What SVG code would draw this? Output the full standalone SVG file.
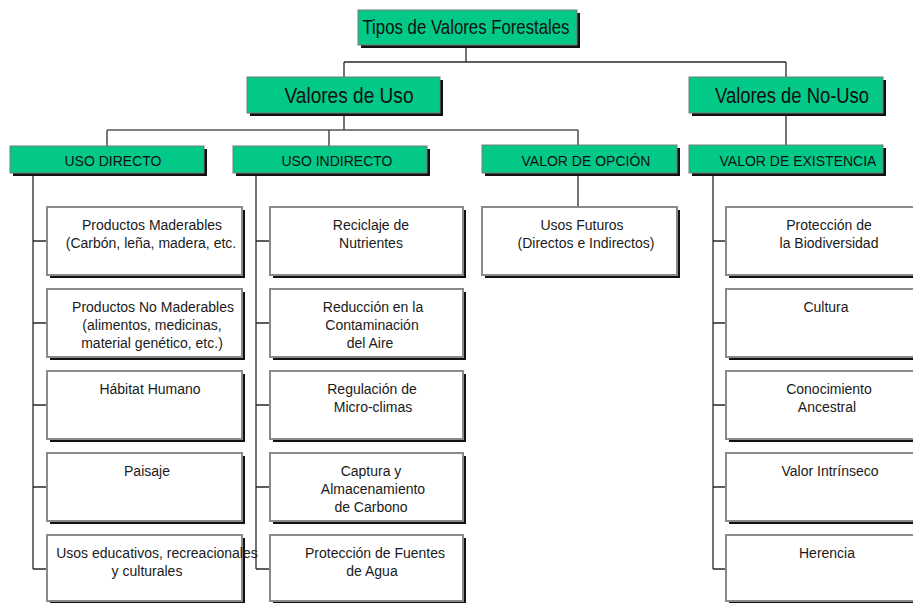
<svg xmlns="http://www.w3.org/2000/svg" width="913" height="603" viewBox="0 0 913 603">
<style>
.sh{fill:#111}
.gb{fill:#02C987;stroke:#7a7a7a;stroke-width:1}
.wb{fill:#fff;stroke:#8a8a8a;stroke-width:2}
.t{font-family:"Liberation Sans",Arial,sans-serif;font-size:14px;fill:#1a1a1a;text-anchor:middle}
.h{font-family:"Liberation Sans",Arial,sans-serif;font-size:14px;fill:#111;text-anchor:middle}
.big{font-family:"Liberation Sans",Arial,sans-serif;fill:#111;text-anchor:middle}
.c{stroke:#2a2a2a;stroke-width:1.3;fill:none}
</style>
<rect width="913" height="603" fill="#fff"/>
<g id="connectors">
<path class="c" d="M466 45V62M344 62H786M344 62V77M786 62V77"/>
<path class="c" d="M344 113V130M786 113V145"/>
<path class="c" d="M107 130H578M107 130V146M329 130V146M578 130V145" style="stroke:#555;stroke-width:1.6"/>
<path class="c" d="M33 173V569M33 241H47M33 323H47M33 405H47M33 487H47M33 569H47"/>
<path class="c" d="M256 173V569M256 241H270M256 323H270M256 405H270M256 487H270M256 569H270"/>
<path class="c" d="M578 173V207"/>
<path class="c" d="M713 173V569M713 241H726M713 323H726M713 405H726M713 487H726M713 569H726"/>
</g>
<g id="tipos">
<rect class="sh" x="361" y="13" width="219" height="35"/>
<rect class="gb" x="358" y="10" width="219" height="35"/>
<text class="big" x="466" y="34" font-size="21" textLength="207" lengthAdjust="spacingAndGlyphs">Tipos de Valores Forestales</text>
</g>
<g id="valores-uso">
<rect class="sh" x="250" y="80" width="193" height="36"/>
<rect class="gb" x="247" y="77" width="193" height="36"/>
<text class="big" x="349" y="103" font-size="22" textLength="129" lengthAdjust="spacingAndGlyphs">Valores de Uso</text>
</g>
<g id="valores-no-uso">
<rect class="sh" x="692" y="80" width="194" height="36"/>
<rect class="gb" x="689" y="77" width="194" height="36"/>
<text class="big" x="792" y="103" font-size="22" textLength="154" lengthAdjust="spacingAndGlyphs">Valores de No-Uso</text>
</g>
<g id="uso-directo">
<rect class="sh" x="13" y="149" width="194" height="27"/>
<rect class="gb" x="10" y="146" width="194" height="27"/>
<text class="h" x="113" y="166">USO DIRECTO</text>
</g>
<g id="uso-indirecto">
<rect class="sh" x="236" y="149" width="194" height="27"/>
<rect class="gb" x="233" y="146" width="194" height="27"/>
<text class="h" x="337" y="166">USO INDIRECTO</text>
</g>
<g id="valor-opcion">
<rect class="sh" x="485" y="148" width="195" height="28"/>
<rect class="gb" x="482" y="145" width="195" height="28"/>
<text class="h" x="586" y="166">VALOR DE OPCIÓN</text>
</g>
<g id="valor-existencia">
<rect class="sh" x="692" y="148" width="194" height="28"/>
<rect class="gb" x="689" y="145" width="194" height="28"/>
<text class="h" x="798" y="166">VALOR DE EXISTENCIA</text>
</g>
<g id="d1"><rect class="sh" x="50" y="210" width="195" height="68"/><rect class="wb" x="47" y="207" width="195" height="68"/>
<text class="t" x="152" y="230">Productos Maderables</text><text class="t" x="151" y="248">(Carbón, leña, madera, etc.</text></g>
<g id="d2"><rect class="sh" x="50" y="292" width="195" height="68"/><rect class="wb" x="47" y="289" width="195" height="68"/>
<text class="t" x="153" y="312">Productos No Maderables</text><text class="t" x="152" y="330">(alimentos, medicinas,</text><text class="t" x="152" y="348">material genético, etc.)</text></g>
<g id="d3"><rect class="sh" x="50" y="374" width="195" height="68"/><rect class="wb" x="47" y="371" width="195" height="68"/>
<text class="t" x="150" y="394">Hábitat Humano</text></g>
<g id="d4"><rect class="sh" x="50" y="456" width="195" height="68"/><rect class="wb" x="47" y="453" width="195" height="68"/>
<text class="t" x="147" y="476">Paisaje</text></g>
<g id="d5"><rect class="sh" x="50" y="538" width="195" height="66"/><rect class="wb" x="47" y="535" width="195" height="66"/>
<text class="t" x="157" y="558">Usos educativos, recreacionales</text><text class="t" x="147" y="576">y culturales</text></g>
<g id="i1"><rect class="sh" x="273" y="210" width="193" height="68"/><rect class="wb" x="270" y="207" width="193" height="68"/>
<text class="t" x="371" y="230">Reciclaje de</text><text class="t" x="371" y="248">Nutrientes</text></g>
<g id="i2"><rect class="sh" x="273" y="292" width="193" height="68"/><rect class="wb" x="270" y="289" width="193" height="68"/>
<text class="t" x="373" y="312">Reducción en la</text><text class="t" x="372" y="330">Contaminación</text><text class="t" x="370" y="348">del Aire</text></g>
<g id="i3"><rect class="sh" x="273" y="374" width="193" height="68"/><rect class="wb" x="270" y="371" width="193" height="68"/>
<text class="t" x="372" y="394">Regulación de</text><text class="t" x="373" y="412">Micro-climas</text></g>
<g id="i4"><rect class="sh" x="273" y="456" width="193" height="68"/><rect class="wb" x="270" y="453" width="193" height="68"/>
<text class="t" x="371" y="476">Captura y</text><text class="t" x="373" y="494">Almacenamiento</text><text class="t" x="371" y="512">de Carbono</text></g>
<g id="i5"><rect class="sh" x="273" y="538" width="193" height="66"/><rect class="wb" x="270" y="535" width="193" height="66"/>
<text class="t" x="375" y="558">Protección de Fuentes</text><text class="t" x="372" y="576">de Agua</text></g>
<g id="o1"><rect class="sh" x="485" y="210" width="195" height="68"/><rect class="wb" x="482" y="207" width="195" height="68"/>
<text class="t" x="582" y="230">Usos Futuros</text><text class="t" x="586" y="248">(Directos e Indirectos)</text></g>
<g id="e1"><rect class="sh" x="729" y="210" width="195" height="68"/><rect class="wb" x="726" y="207" width="195" height="68"/>
<text class="t" x="829" y="230">Protección de</text><text class="t" x="829" y="248">la Biodiversidad</text></g>
<g id="e2"><rect class="sh" x="729" y="292" width="195" height="68"/><rect class="wb" x="726" y="289" width="195" height="68"/>
<text class="t" x="826" y="312">Cultura</text></g>
<g id="e3"><rect class="sh" x="729" y="374" width="195" height="68"/><rect class="wb" x="726" y="371" width="195" height="68"/>
<text class="t" x="829" y="394">Conocimiento</text><text class="t" x="827" y="412">Ancestral</text></g>
<g id="e4"><rect class="sh" x="729" y="456" width="195" height="68"/><rect class="wb" x="726" y="453" width="195" height="68"/>
<text class="t" x="830" y="476">Valor Intrínseco</text></g>
<g id="e5"><rect class="sh" x="729" y="538" width="195" height="66"/><rect class="wb" x="726" y="535" width="195" height="66"/>
<text class="t" x="827" y="558">Herencia</text></g>
</svg>
